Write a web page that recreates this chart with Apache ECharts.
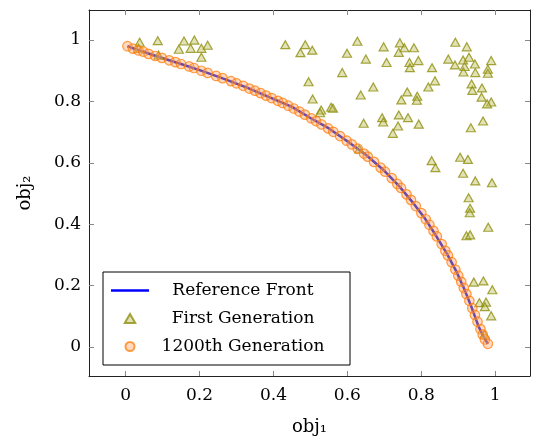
<!DOCTYPE html>
<html>
<head>
<meta charset="utf-8">
<script src="https://cdn.jsdelivr.net/npm/echarts@6/dist/echarts.min.js"></script>
<style>
  html, body { margin: 0; padding: 0; background: #fff; }
  #chart { width: 536px; height: 441px; }
</style>
</head>
<body>
<div id="chart"></div>
<script>
// tick labels
const tickValues = [0, 0.2, 0.4, 0.6, 0.8, 1]

// reference front
const frontX = [0.005, 0.04, 0.09, 0.15, 0.21, 0.27, 0.33, 0.39, 0.45, 0.50, 0.55, 0.60, 0.65, 0.70, 0.74, 0.78, 0.81, 0.84, 0.87, 0.895, 0.915, 0.935, 0.955, 0.968, 0.980]
const frontY = [0.980, 0.965, 0.945, 0.922, 0.898, 0.872, 0.844, 0.813, 0.782, 0.746, 0.712, 0.670, 0.626, 0.574, 0.524, 0.466, 0.418, 0.362, 0.302, 0.245, 0.192, 0.132, 0.066, 0.034, 0.010]

// first generation (triangles)
const firstX = [0.038, 0.035, 0.087, 0.158, 0.186, 0.144, 0.176, 0.205, 0.222, 0.205, 0.089, 0.432, 0.486, 0.473, 0.495,
  0.505, 0.627, 0.599, 0.698, 0.742, 0.754, 0.739, 0.780, 0.650, 0.706, 0.768, 0.792, 0.769, 0.829, 0.892, 0.923,
  0.873, 0.891, 0.913, 0.929, 0.945, 0.917, 0.914, 0.946, 0.989, 0.980, 0.980, 0.586, 0.670, 0.837, 0.819, 0.762,
  0.636, 0.789, 0.788, 0.746, 0.936, 0.938, 0.964, 0.963, 0.989, 0.978, 0.506, 0.529, 0.526, 0.556, 0.561, 0.694,
  0.697, 0.739, 0.764, 0.644, 0.737, 0.793, 0.723, 0.934, 0.967, 0.828, 0.838, 0.905, 0.926, 0.913, 0.946, 0.991,
  0.928, 0.932, 0.931, 0.981, 0.922, 0.932, 0.632, 0.942, 0.968, 0.992, 0.957, 0.975, 0.972, 0.989, 0.971]
const firstY = [0.993, 0.973, 0.998, 0.997, 1.000, 0.970, 0.973, 0.973, 0.983, 0.944, 0.951, 0.985, 0.985, 0.959, 0.864,
  0.967, 0.996, 0.957, 0.978, 0.991, 0.975, 0.960, 0.975, 0.938, 0.927, 0.927, 0.933, 0.910, 0.910, 0.993, 0.978,
  0.938, 0.919, 0.935, 0.944, 0.922, 0.914, 0.896, 0.894, 0.933, 0.905, 0.892, 0.894, 0.847, 0.867, 0.847, 0.831,
  0.821, 0.817, 0.804, 0.805, 0.857, 0.836, 0.844, 0.814, 0.798, 0.792, 0.808, 0.772, 0.763, 0.781, 0.778, 0.747,
  0.733, 0.756, 0.747, 0.729, 0.720, 0.726, 0.696, 0.714, 0.736, 0.607, 0.584, 0.618, 0.611, 0.566, 0.541, 0.535,
  0.486, 0.452, 0.437, 0.390, 0.362, 0.365, 0.645, 0.211, 0.215, 0.186, 0.144, 0.146, 0.131, 0.101, 0.041]

// 1200th generation (circles)
const lastX = [0.005, 0.020, 0.035, 0.048, 0.062, 0.080, 0.098, 0.118, 0.135, 0.150, 0.172, 0.185, 0.205, 0.222, 0.245,
  0.262, 0.285, 0.300, 0.318, 0.335, 0.350, 0.365, 0.380, 0.395, 0.412, 0.425, 0.440, 0.455, 0.470, 0.485, 0.502,
  0.515, 0.530, 0.548, 0.562, 0.580, 0.598, 0.612, 0.628, 0.645, 0.655, 0.672, 0.690, 0.702, 0.720, 0.735, 0.745,
  0.760, 0.772, 0.785, 0.800, 0.812, 0.822, 0.833, 0.842, 0.855, 0.865, 0.872, 0.882, 0.892, 0.900, 0.908, 0.915,
  0.922, 0.930, 0.938, 0.945, 0.952, 0.960, 0.966, 0.972, 0.980]
const lastY = [0.980, 0.972, 0.966, 0.962, 0.955, 0.948, 0.942, 0.934, 0.928, 0.922, 0.914, 0.909, 0.900, 0.893, 0.883,
  0.876, 0.866, 0.859, 0.851, 0.842, 0.835, 0.827, 0.819, 0.811, 0.802, 0.795, 0.786, 0.777, 0.767, 0.757, 0.745,
  0.736, 0.725, 0.712, 0.701, 0.687, 0.672, 0.660, 0.646, 0.630, 0.620, 0.603, 0.584, 0.571, 0.550, 0.531, 0.518,
  0.497, 0.479, 0.459, 0.436, 0.416, 0.398, 0.378, 0.360, 0.335, 0.313, 0.298, 0.276, 0.252, 0.232, 0.212, 0.192,
  0.172, 0.150, 0.126, 0.104, 0.082, 0.058, 0.040, 0.024, 0.010]

const font = 'DejaVu Serif'
const zip = (xs, ys) => xs.map((x, i) => [x, ys[i]])

const chart = echarts.init(document.getElementById('chart'))

const tickStyle = {
  show: true,
  inside: true,
  length: 5,
  customValues: tickValues,
  lineStyle: { color: '#888', width: 1 }
}

const xBase = {
  type: 'value',
  min: -0.099,
  max: 1.094,
  splitLine: { show: false },
  axisLine: { show: true, onZero: false, lineStyle: { color: '#222', width: 1 } },
  axisTick: tickStyle
}
const yBase = {
  type: 'value',
  min: -0.095,
  max: 1.098,
  splitLine: { show: false },
  axisLine: { show: true, onZero: false, lineStyle: { color: '#222', width: 1 } },
  axisTick: tickStyle
}

const tickLabel = {
  show: true,
  customValues: tickValues,
  fontFamily: font,
  fontSize: 17,
  color: '#000',
  formatter: v => String(+v.toFixed(1))
}

const option = {
  animation: false,
  backgroundColor: '#fff',
  grid: { left: 89, right: 6, top: 10, bottom: 65 },
  legend: {
    orient: 'vertical',
    left: 103,
    top: 272,
    padding: [10, 18, 10, 8],
    itemGap: 11,
    itemWidth: 38,
    itemHeight: 9,
    backgroundColor: '#fff',
    borderColor: '#000',
    borderWidth: 1,
    borderRadius: 0,
    formatter: name => '{c|' + name + '}',
    textStyle: {
      fontFamily: font,
      fontSize: 17,
      color: '#000',
      rich: {
        c: { width: 178, align: 'center', fontFamily: font, fontSize: 17, color: '#000', lineHeight: 18 }
      }
    },
    data: [
      { name: 'Reference Front', icon: 'path://M0,0 L38,0 L38,2.6 L0,2.6 Z', itemStyle: { color: '#0000ff', borderWidth: 0 } },
      { name: 'First Generation', icon: 'path://M5,0 L10,8.6 L0,8.6 Z' },
      { name: '1200th Generation', icon: 'circle' }
    ]
  },
  xAxis: [
    Object.assign({}, xBase, {
      position: 'bottom',
      name: 'obj₁',
      nameLocation: 'middle',
      nameGap: 42,
      nameTextStyle: { fontFamily: font, fontSize: 18, color: '#000' },
      axisLabel: Object.assign({}, tickLabel, { margin: 11 })
    }),
    Object.assign({}, xBase, { position: 'top', axisLabel: { show: false } })
  ],
  yAxis: [
    Object.assign({}, yBase, {
      position: 'left',
      name: 'obj₂',
      nameLocation: 'middle',
      nameGap: 55,
      nameTextStyle: { fontFamily: font, fontSize: 18, color: '#000' },
      axisLabel: Object.assign({}, tickLabel, { margin: 8 })
    }),
    Object.assign({}, yBase, { position: 'right', axisLabel: { show: false } })
  ],
  series: [
    {
      name: 'Reference Front',
      type: 'line',
      symbol: 'none',
      z: 2,
      color: '#0000ff',
      lineStyle: { color: '#1414d8', width: 2.5 },
      data: zip(frontX, frontY)
    },
    {
      name: 'First Generation',
      type: 'scatter',
      symbol: 'triangle',
      symbolSize: [9, 8],
      z: 3,
      itemStyle: {
        color: 'rgba(190, 190, 90, 0.55)',
        borderColor: '#8f8f10',
        borderWidth: 1.2
      },
      data: zip(firstX, firstY)
    },
    {
      name: '1200th Generation',
      type: 'scatter',
      symbol: 'circle',
      symbolSize: 9.5,
      z: 4,
      itemStyle: {
        color: 'rgba(255, 160, 90, 0.48)',
        borderColor: 'rgba(255, 120, 0, 0.9)',
        borderWidth: 1.2
      },
      data: zip(lastX, lastY)
    }
  ]
}

chart.setOption(option)
</script>
</body>
</html>
